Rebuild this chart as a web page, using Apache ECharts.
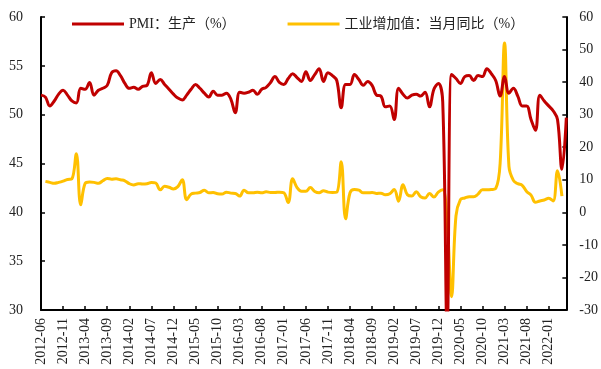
<!DOCTYPE html>
<html>
<head>
<meta charset="utf-8">
<script src="https://cdn.jsdelivr.net/npm/echarts@6/dist/echarts.min.js"></script>
<style>
  html, body { margin: 0; padding: 0; background: #fff; }
  #chart { width: 601px; height: 369px; }
</style>
</head>
<body>
<div id="chart"></div>
<script>
// 月份：2012-06 ~ 2022-05
const months = []
for (let y = 2012; y <= 2022; y++) {
  for (let m = 1; m <= 12; m++) {
    if ((y === 2012 && m < 6) || (y === 2022 && m > 5)) continue
    months.push(y + '-' + (m < 10 ? '0' + m : m))
  }
}

// PMI：生产（%）
const pmiProduction = [
  52.0, 51.8, 50.9, 51.4, 52.1, 52.5, 52.0, 51.4, 51.2, 52.7,
  52.6, 53.3, 52.0, 52.5, 52.7, 53.0, 54.3, 54.5, 54.0, 53.2,
  52.7, 52.8, 52.6, 52.9, 53.0, 54.3, 53.2, 53.6, 53.1, 52.6,
  52.1, 51.7, 51.5, 52.0, 52.6, 53.1, 52.7, 52.2, 51.8, 52.4,
  52.0, 52.0, 52.2, 51.6, 50.2, 52.3, 52.2, 52.3, 52.5, 52.1,
  52.6, 52.8, 53.3, 53.9, 53.3, 53.1, 53.7, 54.2, 53.8, 53.4,
  54.4, 53.5, 54.1, 54.7, 53.4, 54.3, 54.0, 53.5, 50.7, 53.1,
  53.1, 54.1, 53.6, 53.0, 53.4, 53.0, 52.0, 51.9, 50.8, 50.9,
  49.5, 52.7, 52.1, 51.7, 52.0, 52.1, 51.9, 52.3, 50.8, 52.6,
  53.2, 51.3, 27.8, 54.1, 53.7, 53.2, 53.9, 54.0, 53.5, 54.0,
  53.9, 54.7, 54.2, 53.5, 51.9, 53.9, 52.2, 52.7, 51.9, 50.9,
  50.9, 49.5, 48.4, 52.0, 51.4, 50.9, 50.4, 49.5, 44.4, 49.7
]

// 工业增加值：当月同比（%）
const ipYoy = [
  null, 9.5, 9.2, 8.9, 9.2, 9.6, 10.1, 10.3, 18.0, 2.3,
  8.9, 9.3, 9.2, 8.9, 9.7, 10.4, 10.2, 10.3, 10.0, 9.7,
  8.8, 8.4, 8.8, 8.7, 8.8, 9.2, 9.0, 6.9, 8.0, 7.7,
  7.2, 7.9, 10.0, 3.9, 5.6, 5.9, 6.1, 6.8, 6.0, 6.1,
  5.7, 5.6, 6.2, 5.9, 5.8, 5.0, 6.8, 6.0, 6.0, 6.2,
  6.0, 6.3, 6.1, 6.1, 6.2, 6.0, 3.0, 10.3, 7.6, 6.5,
  6.5, 7.6, 6.4, 6.0, 6.6, 6.2, 6.1, 6.2, 15.5, -2.0,
  6.0, 7.0, 6.8, 6.0, 6.0, 6.1, 5.8, 5.9, 5.4, 5.7,
  7.0, 3.4, 8.5, 5.4, 5.0, 6.3, 4.8, 4.4, 5.8, 4.7,
  6.2, 6.9, -3.0, -25.9, -1.1, 3.9, 4.4, 4.8, 4.8, 5.6,
  6.9, 6.9, 7.0, 7.3, 15.0, 52.0, 14.1, 9.8, 8.8, 8.3,
  6.4, 5.3, 3.1, 3.5, 3.8, 4.3, 3.5, 12.8, 5.0, null
]

const FONT = "'Liberation Serif', 'Noto Sans CJK SC', serif"
const axisLine = { show: true, onZero: false, lineStyle: { color: '#000', width: 2 } }
const axisTick = { show: true, inside: true, length: 4, lineStyle: { color: '#000', width: 1.5 } }

const myChart = echarts.init(document.getElementById('chart'), null, { renderer: 'canvas' })
myChart.setOption({
  animation: false,
  textStyle: { fontFamily: FONT },
  legend: {
    left: 67,
    top: 12,
    itemWidth: 52,
    itemHeight: 3,
    itemGap: 52,
    icon: 'rect',
    textStyle: { fontFamily: FONT, fontSize: 14, color: '#222' },
    data: ['PMI：生产（%）', '工业增加值：当月同比（%）']
  },
  grid: { left: 41, right: 33, top: 17, bottom: 59 },
  xAxis: {
    type: 'category',
    data: months,
    boundaryGap: false,
    axisLine: axisLine,
    axisTick: Object.assign({}, axisTick, { interval: 4 }),
    axisLabel: {
      interval: 4,
      rotate: 90,
      margin: 8,
      fontSize: 14,
      color: '#222',
      fontFamily: FONT
    },
    splitLine: { show: false }
  },
  yAxis: [
    {
      type: 'value',
      min: 30,
      max: 60,
      interval: 5,
      axisLine: axisLine,
      axisTick: axisTick,
      axisLabel: { fontSize: 14, color: '#222', margin: 18, fontFamily: FONT },
      splitLine: { show: false }
    },
    {
      type: 'value',
      min: -30,
      max: 60,
      interval: 10,
      position: 'right',
      axisLine: axisLine,
      axisTick: axisTick,
      axisLabel: { fontSize: 14, color: '#222', margin: 13, fontFamily: FONT },
      splitLine: { show: false }
    }
  ],
  series: [
    {
      name: '工业增加值：当月同比（%）',
      type: 'line',
      yAxisIndex: 1,
      data: ipYoy,
      smooth: 0.4,
      symbol: 'none',
      connectNulls: false,
      lineStyle: { color: '#FFC000', width: 3 },
      itemStyle: { color: '#FFC000' }
    },
    {
      name: 'PMI：生产（%）',
      type: 'line',
      yAxisIndex: 0,
      data: pmiProduction,
      smooth: 0.4,
      symbol: 'none',
      lineStyle: { color: '#C00000', width: 3 },
      itemStyle: { color: '#C00000' }
    }
  ]
})
</script>
</body>
</html>
